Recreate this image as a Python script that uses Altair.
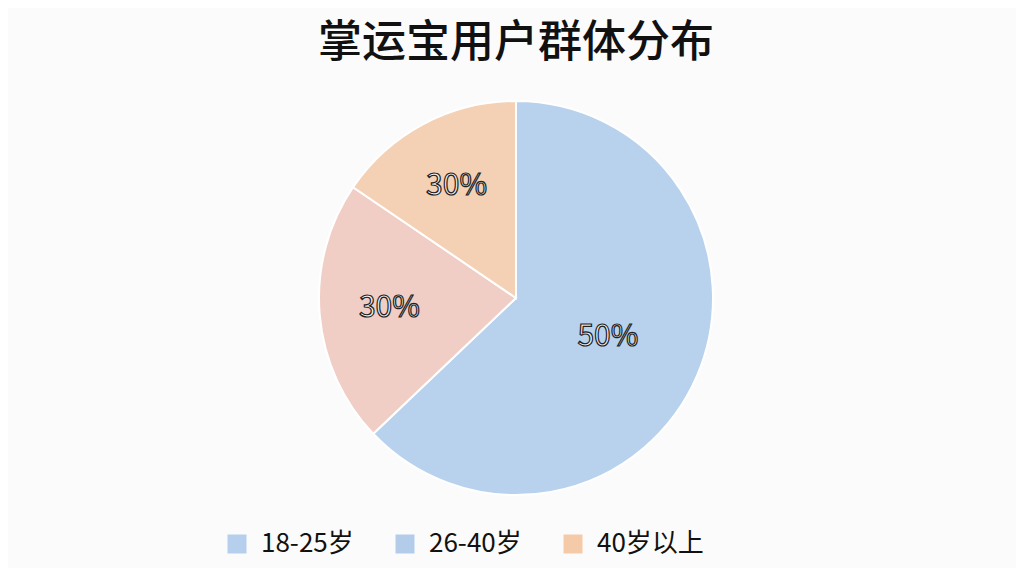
import altair as alt
import pandas as pd

categories = ["18-25岁", "26-40岁", "40岁以上"]
shares = [62.9, 21.6, 15.5]
labels = ["50%", "30%", "30%"]
slice_colors = ["#B8D2EE", "#F1CEC5", "#F4D1B4"]
legend_colors = ["#B6CFED", "#B3CCEA", "#F5CAA9"]

df = pd.DataFrame({"cat": categories, "share": shares, "label": labels,
                   "order": list(range(len(categories)))})

base = alt.Chart(df).encode(
    theta=alt.Theta("share:Q", stack=True),
    order=alt.Order("order:Q"),
)

pie = base.mark_arc(outerRadius=197, stroke="white", strokeWidth=2).encode(
    fill=alt.Fill("cat:N", scale=alt.Scale(domain=categories, range=slice_colors), legend=None)
)

legend_layer = base.mark_arc(outerRadius=0.01, opacity=1).encode(
    color=alt.Color("cat:N", scale=alt.Scale(domain=categories, range=legend_colors),
                    legend=alt.Legend(title=None, orient="none", direction="horizontal",
                                      legendX=208, legendY=455,
                                      symbolType="square", symbolSize=361,
                                      symbolStrokeWidth=0, labelFontSize=26,
                                      labelFont="Noto Sans CJK SC", labelColor="#111",
                                      columnPadding=38, symbolOffset=0, labelOffset=11,
                                      padding=0))
)

text_style = dict(fontSize=30, font="Noto Sans CJK SC", fill="#f4f4f4",
                  stroke="#222222", strokeWidth=1.2)

text_big = base.transform_calculate(
    t="datum.order == 0 ? datum.label : ''"
).mark_text(radius=100, **text_style).encode(text="t:N")

text_small = base.transform_calculate(
    t="datum.order > 0 ? datum.label : ''"
).mark_text(radius=127, **text_style).encode(text="t:N")

chart = alt.layer(pie, legend_layer, text_big, text_small).resolve_scale(
    color="independent", fill="independent"
).properties(
    width=1000, height=444,
    autosize=alt.AutoSizeParams(type="none"),
    padding={"top": 68, "bottom": 48, "left": 8, "right": 0},
    background="#fbfbfb",
    title=alt.TitleParams("掌运宝用户群体分布", fontSize=44, font="Noto Sans CJK SC",
                          fontWeight=500, color="#111", anchor="middle", offset=10),
).configure_view(stroke=None)

chart.save("out.html", embed_options={"renderer": "svg", "actions": False})
